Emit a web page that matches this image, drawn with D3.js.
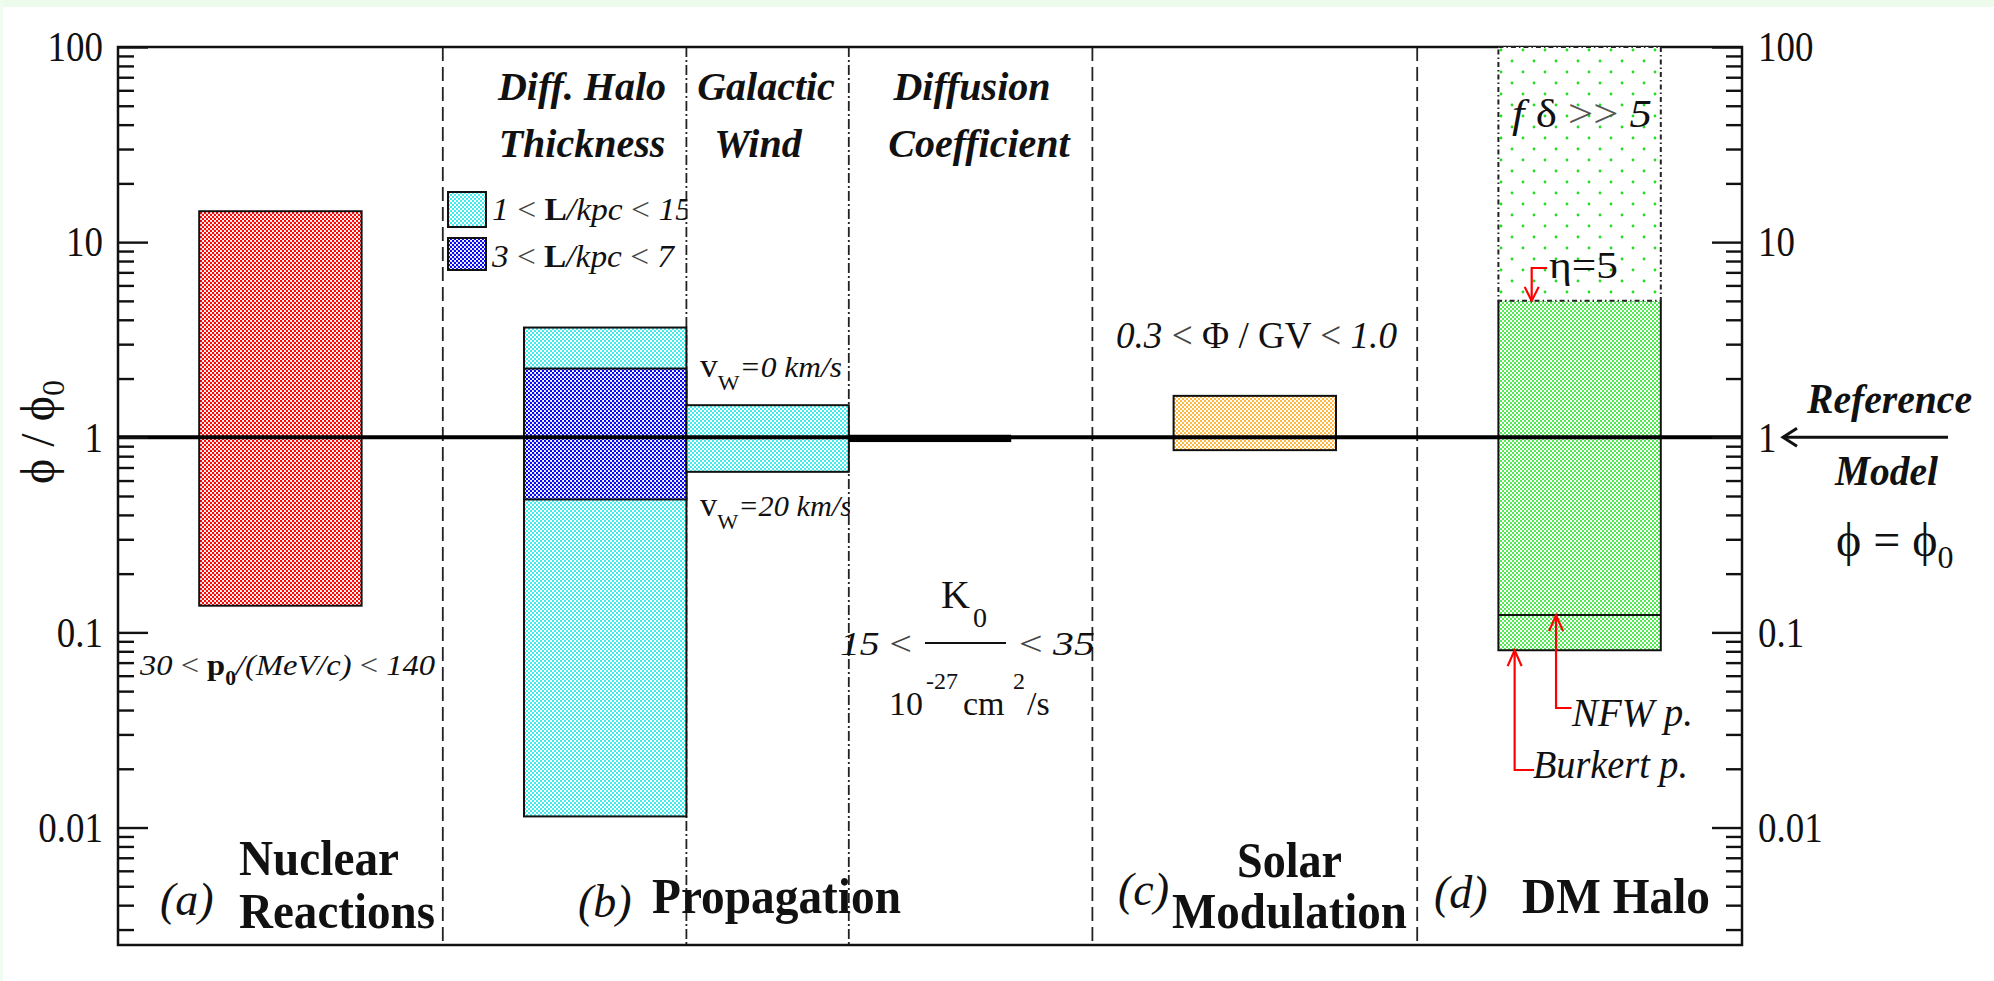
<!DOCTYPE html>
<html><head><meta charset="utf-8">
<script src="https://cdn.jsdelivr.net/npm/d3@7"></script>
<style>
html,body{margin:0;padding:0;background:#fff;}
svg{display:block;}
text{font-family:"Liberation Serif","DejaVu Serif","Times New Roman",serif;fill:#111;}
</style></head><body>
<svg id="c" width="1994" height="981"></svg>
<script>
// ---------------- data ----------------
const yDomain = [0.0025, 100];
const majorTicks = [0.01, 0.1, 1, 10, 100];
const majorTickLabels = ["0.01", "0.1", "1", "10", "100"];
const minorTicks = [0.003,0.004,0.005,0.006,0.007,0.008,0.009,
                    0.02,0.03,0.04,0.05,0.06,0.07,0.08,0.09,
                    0.2,0.3,0.4,0.5,0.6,0.7,0.8,0.9,
                    2,3,4,5,6,7,8,9,
                    20,30,40,50,60,70,80,90];
const separatorX = [20, 35, 45, 60, 80];
const separatorKind = ["dash", "dashdot", "dashdot", "dash", "dash"];
const boxKeys = ["nuclear", "haloWide", "haloNarrow", "wind", "diffusion", "solar", "dm"];
const boxX0   = [5, 25, 25, 35, 45, 65, 85];
const boxX1   = [15, 35, 35, 45, 55, 75, 95];
const boxLow  = [0.137, 0.0114, 0.48, 0.665, 0.945, 0.859, 0.0811];
const boxHigh = [14.4, 3.65, 2.25, 1.46, 1.03, 1.63, 5];
const dmUpperRange = [5, 100];     // f delta >> 5 region
const nfwValue = 0.1226;           // NFW profile
const referenceValue = 1;          // phi = phi0
const xDomain = [0, 100];

// ---------------- layout ----------------
const pL = 118, pR = 1742, pT = 47, pB = 945;
const svg = d3.select("#c");
const x = d3.scaleLinear().domain(xDomain).range([pL, pR]);
const y = d3.scaleLog().domain(yDomain).range([pB, pT]);

svg.append("rect").attr("width", 1994).attr("height", 981).attr("fill", "#fff");
svg.append("rect").attr("width", 1994).attr("height", 7).attr("fill", "#edfbed");
svg.append("rect").attr("width", 3).attr("height", 981).attr("fill", "#f0fcf0");

// patterns
const defs = svg.append("defs");
function dotPattern(id, color, w, h, pts, r) {
  const p = defs.append("pattern").attr("id", id).attr("patternUnits", "userSpaceOnUse")
    .attr("width", w).attr("height", h);
  p.append("rect").attr("width", w).attr("height", h).attr("fill", "#fff");
  pts.forEach(([cx, cy]) => p.append("circle").attr("cx", cx).attr("cy", cy).attr("r", r).attr("fill", color));
}
dotPattern("p-red", "#ff0000", 4, 4, [[1, 1], [3, 3]], 1.2);
dotPattern("p-cyan", "#00e6e6", 4, 4, [[1, 1], [3, 3]], 1.0);
dotPattern("p-blue", "#0000f0", 4, 4, [[1, 1], [3, 3]], 1.2);
dotPattern("p-orange", "#ffa000", 4, 4, [[1, 1], [3, 3]], 1.0);
dotPattern("p-green", "#00e000", 4, 4, [[1, 1], [3, 3]], 0.9);
dotPattern("p-sparse", "#22dd22", 22, 22, [[5, 6], [16, 17]], 1.4);
const fillFor = {nuclear: "url(#p-red)", haloWide: "url(#p-cyan)", haloNarrow: "url(#p-blue)",
  wind: "url(#p-cyan)", diffusion: "#000", solar: "url(#p-orange)", dm: "url(#p-green)"};

defs.append("clipPath").attr("id", "clipHalo").append("rect")
  .attr("x", x(20)).attr("y", 0).attr("width", x(35) - x(20) + 1).attr("height", 981);
defs.append("clipPath").attr("id", "clipWind").append("rect")
  .attr("x", x(35)).attr("y", 0).attr("width", x(45) - x(35) + 1).attr("height", 981);

// separators
svg.append("g").selectAll("line").data(separatorX).join("line")
  .attr("x1", d => x(d)).attr("x2", d => x(d)).attr("y1", pT).attr("y2", pB)
  .attr("stroke", "#222").attr("stroke-width", 1.8)
  .attr("stroke-dasharray", (d, i) => separatorKind[i] === "dash" ? "14,6" : "10,3,2,3");

// frame
svg.append("rect").attr("x", pL).attr("y", pT).attr("width", pR - pL).attr("height", pB - pT)
  .attr("fill", "none").attr("stroke", "#111").attr("stroke-width", 2.5);

// boxes
const boxes = boxKeys.map((k, i) => ({k, x0: boxX0[i], x1: boxX1[i], lo: boxLow[i], hi: boxHigh[i]}));
const gB = svg.append("g");
gB.selectAll("rect.box").data(boxes.filter(b => b.k !== "dm")).join("rect").attr("class", "box")
  .attr("x", d => x(d.x0)).attr("width", d => x(d.x1) - x(d.x0))
  .attr("y", d => y(d.hi)).attr("height", d => y(d.lo) - y(d.hi))
  .attr("fill", d => fillFor[d.k])
  .attr("stroke", d => d.k === "diffusion" ? "none" : "#111").attr("stroke-width", 2);

// DM halo box
const dm = boxes.find(b => b.k === "dm");
gB.append("rect").attr("x", x(dm.x0)).attr("width", x(dm.x1) - x(dm.x0))
  .attr("y", y(dm.hi)).attr("height", y(dm.lo) - y(dm.hi)).attr("fill", fillFor.dm);
const line = d3.line().x(d => x(d[0])).y(d => y(d[1]));
gB.append("path").attr("d", line([[dm.x0, dm.hi], [dm.x0, dm.lo], [dm.x1, dm.lo], [dm.x1, dm.hi]]))
  .attr("fill", "none").attr("stroke", "#111").attr("stroke-width", 2);
gB.append("rect").attr("x", x(dm.x0)).attr("width", x(dm.x1) - x(dm.x0))
  .attr("y", y(dmUpperRange[1])).attr("height", y(dmUpperRange[0]) - y(dmUpperRange[1]))
  .attr("fill", "url(#p-sparse)").attr("stroke", "#222").attr("stroke-width", 2)
  .attr("stroke-dasharray", "5,3,1.5,3");
gB.append("path").attr("d", line([[dm.x0, nfwValue], [dm.x1, nfwValue]]))
  .attr("stroke", "#111").attr("stroke-width", 2);

// reference line
svg.append("path").attr("d", line([[xDomain[0], referenceValue], [xDomain[1], referenceValue]]))
  .attr("stroke", "#000").attr("stroke-width", 4);

// axes
function styleAxis(g, labelX, sx) {
  g.select(".domain").remove();
  g.selectAll("line").attr("stroke", "#111").attr("stroke-width", 2.4);
  g.selectAll("text").attr("font-family", '"Liberation Serif",serif').attr("font-size", 43)
    .attr("fill", "#111").attr("x", labelX / sx).attr("transform", `scale(${sx},1)`);
}
const gL = svg.append("g").attr("transform", `translate(${pL},0)`)
  .call(d3.axisLeft(y).tickValues(majorTicks).tickSize(-30).tickPadding(0).tickFormat((d, i) => majorTickLabels[i]));
styleAxis(gL, -15, 0.86);
const gLm = svg.append("g").attr("transform", `translate(${pL},0)`)
  .call(d3.axisLeft(y).tickValues(minorTicks).tickSize(-16).tickFormat(() => ""));
styleAxis(gLm, 0, 1);
const gR = svg.append("g").attr("transform", `translate(${pR},0)`)
  .call(d3.axisRight(y).tickValues(majorTicks).tickSize(-30).tickPadding(0).tickFormat((d, i) => majorTickLabels[i]));
styleAxis(gR, 16, 0.86);
const gRm = svg.append("g").attr("transform", `translate(${pR},0)`)
  .call(d3.axisRight(y).tickValues(minorTicks).tickSize(-16).tickFormat(() => ""));
styleAxis(gRm, 0, 1);

// ---------------- annotations ----------------
const ann = svg.append("g");
function T(xp, yp, parts, o = {}) {
  const t = (o.parent || ann).append("text").attr("x", xp).attr("y", yp)
    .attr("font-size", o.size || 36).attr("text-anchor", o.anchor || "start");
  if (o.len) t.attr("textLength", o.len).attr("lengthAdjust", "spacingAndGlyphs");
  if (o.style) t.attr("font-style", o.style);
  if (o.weight) t.attr("font-weight", o.weight);
  if (o.transform) t.attr("transform", o.transform);
  if (o.clip) t.attr("clip-path", o.clip);
  parts.forEach(p => {
    const s = t.append("tspan").text(p.t);
    if (p.i) s.attr("font-style", "italic");
    if (p.n) s.attr("font-style", "normal");
    if (p.b) s.attr("font-weight", "bold");
    if (p.s) s.attr("font-size", p.s);
    if (p.dy) s.attr("dy", p.dy);
    if (p.c) s.style("fill", p.c);
  });
  return t;
}

// y title
T(0, 0, [{t: "ϕ / ϕ"}, {t: "0", s: 32, dy: 10}], {size: 48, anchor: "middle", transform: "translate(54,432) rotate(-90)"});

// column headings
const bi = {size: 40, style: "italic", weight: "bold", anchor: "middle"};
T(582, 100, [{t: "Diff. Halo"}], bi);
T(582, 157, [{t: "Thickness"}], bi);
T(766, 100, [{t: "Galactic"}], bi);
T(758, 157, [{t: "Wind"}], bi);
T(972, 100, [{t: "Diffusion"}], bi);
T(979, 157, [{t: "Coefficient"}], bi);

// legend
ann.append("rect").attr("x", 448).attr("y", 192).attr("width", 38).attr("height", 35)
  .attr("fill", "url(#p-cyan)").attr("stroke", "#111").attr("stroke-width", 2);
ann.append("rect").attr("x", 448).attr("y", 238).attr("width", 38).attr("height", 32)
  .attr("fill", "url(#p-blue)").attr("stroke", "#111").attr("stroke-width", 2);
T(492, 220, [{t: "1", i: 1}, {t: " < ", c: "#444"}, {t: "L", b: 1}, {t: "/kpc", i: 1}, {t: " < ", c: "#444"}, {t: "15", i: 1}],
  {size: 32, len: 200, clip: "url(#clipHalo)"});
T(492, 267, [{t: "3", i: 1}, {t: " < ", c: "#444"}, {t: "L", b: 1}, {t: "/kpc", i: 1}, {t: " < ", c: "#444"}, {t: "7", i: 1}],
  {size: 32, len: 182});

// galactic wind labels
T(700, 377, [{t: "v", s: 34}, {t: "W", s: 22, dy: 13}, {t: "=0 km/s", i: 1, dy: -13}], {size: 30, len: 142});
T(700, 516, [{t: "v", s: 34}, {t: "W", s: 22, dy: 13}, {t: "=20 km/s", i: 1, dy: -13}], {size: 30, len: 152, clip: "url(#clipWind)"});

// diffusion coefficient formula
T(840, 655, [{t: "15", i: 1}, {t: " <", c: "#444"}], {size: 33, len: 72});
ann.append("line").attr("x1", 925).attr("x2", 1006).attr("y1", 643).attr("y2", 643).attr("stroke", "#111").attr("stroke-width", 2);
T(941, 608, [{t: "K"}], {size: 40});
T(973, 627, [{t: "0"}], {size: 28});
T(1019, 655, [{t: "< ", c: "#444"}, {t: "35", i: 1}], {size: 33, len: 76});
T(889, 715, [{t: "10"}], {size: 34});
T(926, 689, [{t: "-27"}], {size: 24});
T(963, 715, [{t: "cm"}], {size: 34});
T(1013, 689, [{t: "2"}], {size: 24});
T(1027, 715, [{t: "/s"}], {size: 34});

// nuclear
T(140, 675, [{t: "30", i: 1}, {t: " < ", c: "#444"}, {t: "p", b: 1}, {t: "0", b: 1, s: 20, dy: 10}, {t: "/(MeV/c)", i: 1, dy: -10}, {t: " < ", c: "#444"}, {t: "140", i: 1}],
  {size: 30, len: 295});

// solar
T(1116, 348, [{t: "0.3", i: 1}, {t: " < ", c: "#444"}, {t: "Φ"}, {t: " / "}, {t: "GV"}, {t: " < ", c: "#444"}, {t: "1.0", i: 1}],
  {size: 37, len: 281});

// DM halo
T(1512, 127, [{t: "f", i: 1}, {t: " δ"}, {t: " >> ", c: "#555"}, {t: "5", i: 1}], {size: 40, len: 140});
T(1549, 278, [{t: "η=5"}], {size: 38, len: 69});
T(1572, 726, [{t: "NFW p."}], {size: 40, style: "italic", len: 121});
T(1533, 778, [{t: "Burkert p."}], {size: 40, style: "italic", len: 155});

const red = "#ff0000";
function arrowPath(pts) { return d3.line()(pts); }
// eta arrow (down to top of DM box)
ann.append("path").attr("d", arrowPath([[x(88), 268], [x(87.05), 268], [x(87.05), y(dm.hi)]]))
  .attr("fill", "none").attr("stroke", red).attr("stroke-width", 2.2);
ann.append("path").attr("d", arrowPath([[x(87.05) - 7, y(dm.hi) - 14], [x(87.05), y(dm.hi)], [x(87.05) + 7, y(dm.hi) - 14]]))
  .attr("fill", "none").attr("stroke", red).attr("stroke-width", 2.2);
// Burkert arrow
ann.append("path").attr("d", arrowPath([[x(87.2), 770], [x(86), 770], [x(86), y(dm.lo)]]))
  .attr("fill", "none").attr("stroke", red).attr("stroke-width", 2.2);
ann.append("path").attr("d", arrowPath([[x(86) - 7, y(dm.lo) + 16], [x(86), y(dm.lo)], [x(86) + 7, y(dm.lo) + 16]]))
  .attr("fill", "none").attr("stroke", red).attr("stroke-width", 2.2);
// NFW arrow
ann.append("path").attr("d", arrowPath([[x(89.5), 708], [x(88.55), 708], [x(88.55), y(nfwValue)]]))
  .attr("fill", "none").attr("stroke", red).attr("stroke-width", 2.2);
ann.append("path").attr("d", arrowPath([[x(88.55) - 7, y(nfwValue) + 16], [x(88.55), y(nfwValue)], [x(88.55) + 7, y(nfwValue) + 16]]))
  .attr("fill", "none").attr("stroke", red).attr("stroke-width", 2.2);

// bottom labels
const it = {size: 46, style: "italic"};
T(160, 915, [{t: "(a)"}], it);
T(578, 917, [{t: "(b)"}], it);
T(1118, 905, [{t: "(c)"}], it);
T(1434, 908, [{t: "(d)"}], it);
const bd = {size: 50, weight: "bold"};
T(239, 875, [{t: "Nuclear"}], Object.assign({len: 160}, bd));
T(239, 928, [{t: "Reactions"}], Object.assign({len: 196}, bd));
T(652, 913, [{t: "Propagation"}], Object.assign({len: 249}, bd));
T(1237, 877, [{t: "Solar"}], Object.assign({len: 105}, bd));
T(1172, 928, [{t: "Modulation"}], Object.assign({len: 235}, bd));
T(1522, 913, [{t: "DM Halo"}], Object.assign({len: 188}, bd));

// reference model (right)
T(1807, 413, [{t: "Reference"}], {size: 42, style: "italic", weight: "bold", len: 165});
T(1835, 485, [{t: "Model"}], {size: 42, style: "italic", weight: "bold", len: 103});
ann.append("path").attr("d", arrowPath([[1948, y(referenceValue)], [1783, y(referenceValue)]]))
  .attr("stroke", "#111").attr("stroke-width", 3);
ann.append("path").attr("d", arrowPath([[1797, y(referenceValue) - 9], [1783, y(referenceValue)], [1797, y(referenceValue) + 9]]))
  .attr("fill", "none").attr("stroke", "#111").attr("stroke-width", 3);
T(1836, 556, [{t: "ϕ = ϕ"}, {t: "0", s: 32, dy: 12}], {size: 48});
</script>
</body></html>
